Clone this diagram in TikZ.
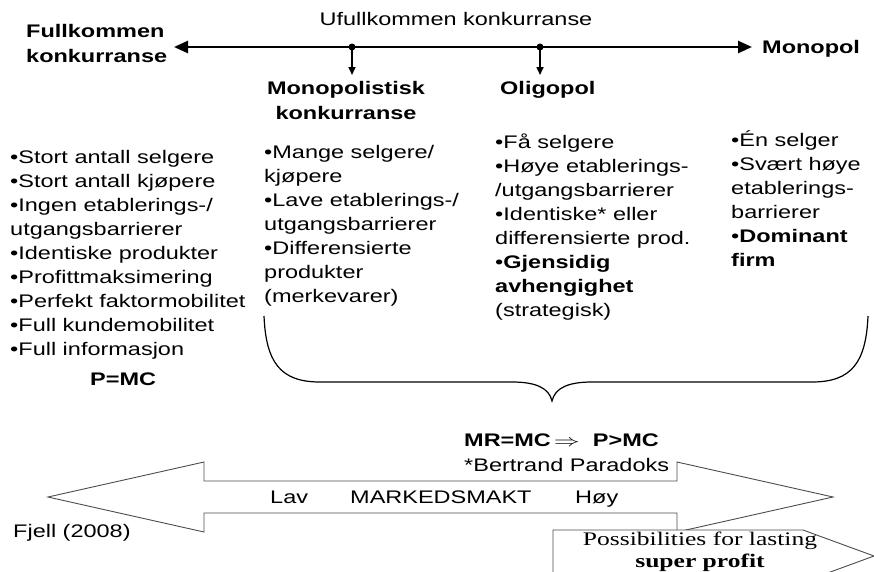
\documentclass[tikz,border=0pt]{standalone}
\usepackage{fontspec}
\setmainfont[FakeStretch=1.29]{Liberation Sans}
\newfontfamily\serifbox[FakeStretch=1.33]{Liberation Serif}
\usepackage{graphicx}
\usepackage{tikz}
\usetikzlibrary{arrows.meta}
\newcommand{\txtsize}{\fontsize{18.2}{24.1}\selectfont}
\newcommand{\leftlines}[1]{\begin{tabular}[t]{@{}l@{}}#1\end{tabular}}
\newcommand{\midlines}[1]{\begin{tabular}[t]{@{}c@{}}#1\end{tabular}}
\begin{document}
\begin{tikzpicture}[x=1pt,y=-1pt,
  txt/.style={inner sep=0pt,anchor=base west,font=\txtsize},
  head/.style={txt,font=\txtsize\bfseries},
  outline/.style={draw=black!70,line width=0.9pt},
  bigtip/.style={line width=2.6pt,{Triangle[length=14pt,width=12pt]}-{Triangle[length=14pt,width=12pt]}},
  droptip/.style={line width=1.6pt,-{Triangle[length=8pt,width=7pt]}}]
\useasboundingbox (0,0) rectangle (874,571);
\node[txt,anchor=base] (ufull) at (456,25) {Ufullkommen konkurranse};
\node[head] (full) at (26,37) {\leftlines{Fullkommen\\[1pt]konkurranse}};
\node[head] (mono) at (762,53) {Monopol};
\coordinate (lend) at (174,47);
\coordinate (rend) at (752,47);
\coordinate (d1) at (352,47);
\coordinate (d2) at (540,47);
\coordinate (t1) at (352,75);
\coordinate (t2) at (540,75);
\draw[bigtip] (lend) -- (rend);
\fill (d1) circle (3.5pt);
\fill (d2) circle (3.5pt);
\draw[droptip] (d1) -- (t1);
\draw[droptip] (d2) -- (t2);
\node[head,anchor=base] (monkonk) at (346,94) {\midlines{Monopolistisk\\[1pt]konkurranse}};
\node[head] (oligo) at (500,94) {Oligopol};
\node[txt] (col1) at (10,163) {\leftlines{•Stort antall selgere\\•Stort antall kjøpere\\•Ingen etablerings-/\\utgangsbarrierer\\•Identiske produkter\\•Profittmaksimering\\•Perfekt faktormobilitet\\•Full kundemobilitet\\•Full informasjon}};
\node[head] (pmc) at (90,385) {P=MC};
\node[txt] (col2) at (264,158) {\leftlines{•Mange selgere/\\kjøpere\\•Lave etablerings-/\\utgangsbarrierer\\•Differensierte\\produkter\\(merkevarer)}};
\node[txt] (col3) at (495,148) {\leftlines{•Få selgere\\•Høye etablerings-\\/utgangsbarrierer\\•Identiske* eller\\differensierte prod.\\•\textbf{Gjensidig}\\\textbf{avhengighet}\\(strategisk)}};
\node[txt] (col4) at (731,146) {\leftlines{•Én selger\\•Svært høye\\etablerings-\\barrierer\\•\textbf{Dominant}\\\textbf{firm}}};
\coordinate (bl) at (264,316);
\coordinate (btip) at (552,401);
\coordinate (br) at (868,316);
\draw[line width=1.2pt] (bl) .. controls (266,362) and (280,382) .. (320,382) -- (512,382)
  .. controls (536,382) and (549,388) .. (btip) .. controls (555,388) and (568,382) .. (592,382)
  -- (812,382) .. controls (852,382) and (866,362) .. (br);
\node[head] (mrmc) at (464,446) {MR=MC\,\scalebox{1.5}[1]{$\Rightarrow$}~~P>MC};
\node[txt] (bertrand) at (464,471) {*Bertrand Paradoks};
\draw[outline] (48,497) -- (204,462) -- (204,481) -- (677,481) -- (677,462) -- (833,497)
  -- (677,532) -- (677,513) -- (204,513) -- (204,532) -- cycle;
\node[txt] (lav) at (270,503) {Lav};
\node[txt] (marked) at (350,503) {MARKEDSMAKT};
\node[txt] (hoy) at (575,503) {Høy};
\draw[outline,fill=white] (553,530) -- (803,530) -- (874,556) -- (803,582) -- (553,582) -- cycle;
\node[inner sep=0pt,anchor=base,font=\serifbox\fontsize{19.2}{22}\selectfont] (possib) at (700,545) {\midlines{Possibilities for lasting\\\textbf{super profit}}};
\node[txt] (fjell) at (13,537) {Fjell (2008)};
\end{tikzpicture}
\end{document}
